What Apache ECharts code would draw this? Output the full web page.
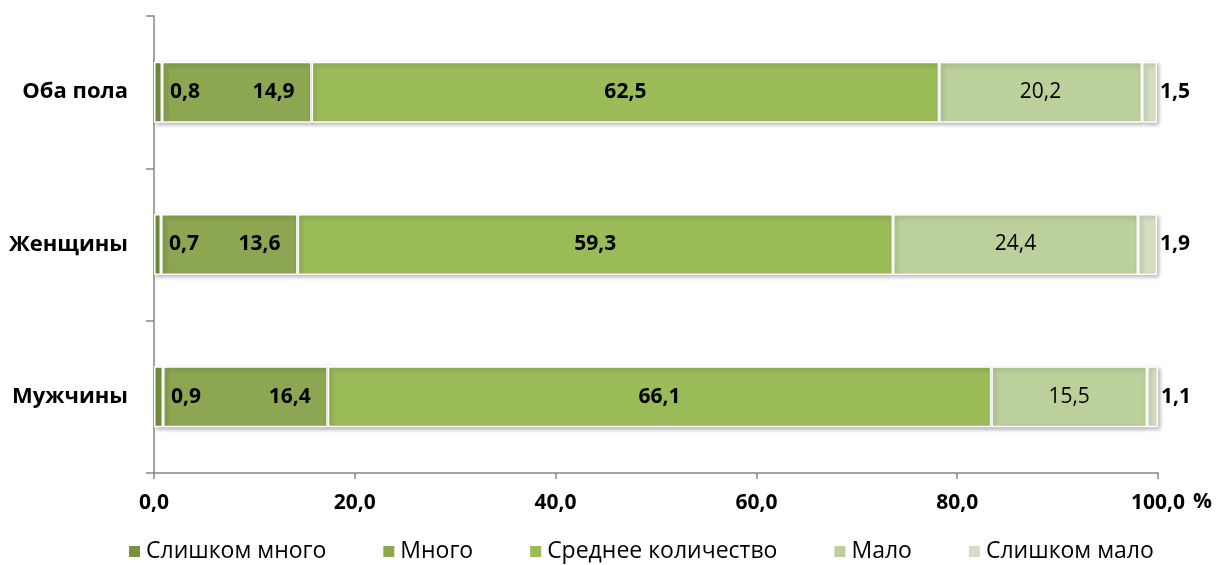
<!DOCTYPE html>
<html><head><meta charset="utf-8">
<script src="https://cdn.jsdelivr.net/npm/echarts@6/dist/echarts.min.js"></script>
<style>html,body{margin:0;padding:0;background:#fff}#c{width:1217px;height:565px}</style>
</head><body><div id="c"></div>
<script>
const categories = ['Мужчины', 'Женщины', 'Оба пола'];
const seriesNames = ['Слишком много', 'Много', 'Среднее количество', 'Мало', 'Слишком мало'];
const tooMuch = [0.9, 0.7, 0.8];
const much = [16.4, 13.6, 14.9];
const average = [66.1, 59.3, 62.5];
const little = [15.5, 24.4, 20.2];
const tooLittle = [1.1, 1.9, 1.5];
const xTicks = [0, 20, 40, 60, 80, 100];
const unitLabel = '%';

const colors = ['#77933C', '#8CA652', '#9BBB59', '#BCD09B', '#D3DFC1'];
const font = 'Open Sans';
const fmt = v => v.toFixed(1).replace('.', ',');

const dataSets = [tooMuch, much, average, little, tooLittle];
const labelCfg = [
  {position: 'right', distance: 8, fontWeight: 'bold'},
  {position: 'insideRight', distance: 17, fontWeight: 'bold'},
  {position: 'inside', fontWeight: 'bold'},
  {position: 'inside', fontWeight: 'normal'},
  {position: 'right', distance: 3, fontWeight: 'bold'}
];

const series = dataSets.map((d, i) => ({
  name: seriesNames[i],
  type: 'bar',
  stack: 'total',
  barWidth: 61,
  data: d,
  itemStyle: {
    color: colors[i],
    borderColor: '#ffffff',
    borderWidth: 1.5,
    shadowColor: 'rgba(0,0,0,0.28)',
    shadowBlur: 4,
    shadowOffsetX: 2,
    shadowOffsetY: 2
  },
  label: Object.assign({
    show: true,
    color: '#000',
    fontFamily: font,
    fontSize: 21,
    formatter: p => fmt(p.value)
  }, labelCfg[i]),
  emphasis: {disabled: true}
}));

const chart = echarts.init(document.getElementById('c'), null, {renderer: 'canvas'});
chart.setOption({
  animation: false,
  grid: {left: 154, right: 59, top: 16, bottom: 92, containLabel: false},
  legend: {
    bottom: -3,
    left: 122,
    itemWidth: 13,
    itemHeight: 13,
    itemGap: 55,
    icon: 'rect',
    textStyle: {fontFamily: font, fontSize: 23, color: '#000'},
    data: seriesNames
  },
  xAxis: {
    type: 'value',
    min: xTicks[0],
    max: xTicks[xTicks.length - 1],
    interval: xTicks[1] - xTicks[0],
    axisLine: {show: true, lineStyle: {color: '#868686', width: 1.5}},
    axisTick: {show: true, length: 6, lineStyle: {color: '#868686', width: 1.5}},
    splitLine: {show: false},
    axisLabel: {
      margin: 20,
      color: '#000',
      fontFamily: font,
      fontSize: 21,
      fontWeight: 'bold',
      formatter: v => fmt(v)
    }
  },
  yAxis: {
    type: 'category',
    data: categories,
    axisLine: {show: true, lineStyle: {color: '#868686', width: 1.5}},
    axisTick: {show: true, length: 8, lineStyle: {color: '#868686', width: 1.5}},
    axisLabel: {
      margin: 26,
      color: '#000',
      fontFamily: font,
      fontSize: 22,
      fontWeight: 'bold'
    }
  },
  graphic: [{
    type: 'text',
    left: 1193,
    top: 492,
    style: {text: unitLabel, fill: '#000', font: 'bold 21px "Open Sans"'}
  }],
  series: series
});
</script></body></html>
